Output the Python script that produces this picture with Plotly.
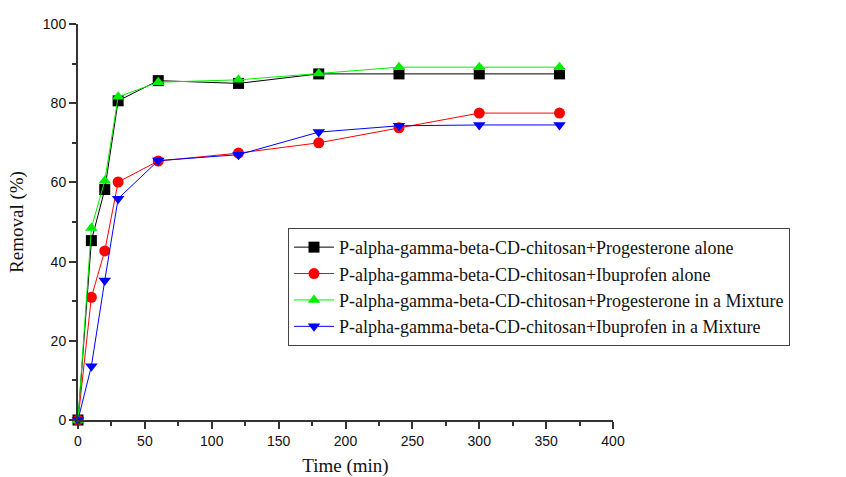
import plotly.graph_objects as go

time_min = [0, 10, 20, 30, 60, 120, 180, 240, 300, 360]
prog_alone = [0, 45.3, 58.2, 80.6, 85.7, 85.0, 87.4, 87.4, 87.4, 87.4]
ibu_alone = [0, 31.0, 42.7, 60.1, 65.4, 67.4, 70.0, 73.8, 77.5, 77.5]
prog_mix = [0, 48.5, 60.4, 81.6, 85.3, 85.9, 87.5, 89.1, 89.1, 89.1]
ibu_mix = [0, 13.6, 35.2, 55.9, 65.5, 67.0, 72.7, 74.3, 74.5, 74.5]

names = [
    "P-alpha-gamma-beta-CD-chitosan+Progesterone alone",
    "P-alpha-gamma-beta-CD-chitosan+Ibuprofen alone",
    "P-alpha-gamma-beta-CD-chitosan+Progesterone in a Mixture",
    "P-alpha-gamma-beta-CD-chitosan+Ibuprofen in a Mixture",
]
series = [prog_alone, ibu_alone, prog_mix, ibu_mix]
colors = ["#000000", "#ff0000", "#00ee00", "#0000ff"]
symbols = ["square", "circle", "triangle-up", "triangle-down"]

fig = go.Figure()
for n, s, c, m in zip(names, series, colors, symbols):
    fig.add_trace(go.Scatter(
        x=time_min, y=s, name=n, mode="lines+markers",
        line=dict(color=c, width=1),
        marker=dict(symbol=m, size=11, color=c, line=dict(width=0)),
        cliponaxis=False,
    ))

axis_common = dict(
    showgrid=False, zeroline=False, showline=True, linecolor="#333333", linewidth=2,
    ticks="outside", ticklen=7, tickwidth=1.5, tickcolor="#333333", automargin=False,
    tickfont=dict(family="Liberation Sans, Arial", size=14, color="#111111"),
)
title_font = dict(family="Liberation Serif, Times New Roman", size=19, color="#111111")

fig.update_layout(
    width=846, height=477,
    margin=dict(l=78, r=233, t=24, b=57),
    paper_bgcolor="white", plot_bgcolor="white",
    xaxis=dict(range=[0, 400], dtick=50, tick0=0,
               title=dict(text="Time (min)", font=title_font, standoff=12),
               minor=dict(dtick=25, ticks="outside", ticklen=4, tickcolor="#333333"),
               **axis_common),
    yaxis=dict(range=[0, 100], dtick=20, tick0=0,
               title=dict(text="Removal (%)", font=title_font, standoff=14),
               minor=dict(dtick=10, ticks="outside", ticklen=4, tickcolor="#333333"),
               **axis_common),
    legend=dict(x=0.3925, y=0.485, xanchor="left", yanchor="top",
                bordercolor="#444444", borderwidth=1, bgcolor="white",
                font=dict(family="Liberation Serif, Times New Roman", size=18, color="#111111"),
                tracegroupgap=0, itemwidth=40),
    showlegend=True,
)

fig.write_html("out.html")
